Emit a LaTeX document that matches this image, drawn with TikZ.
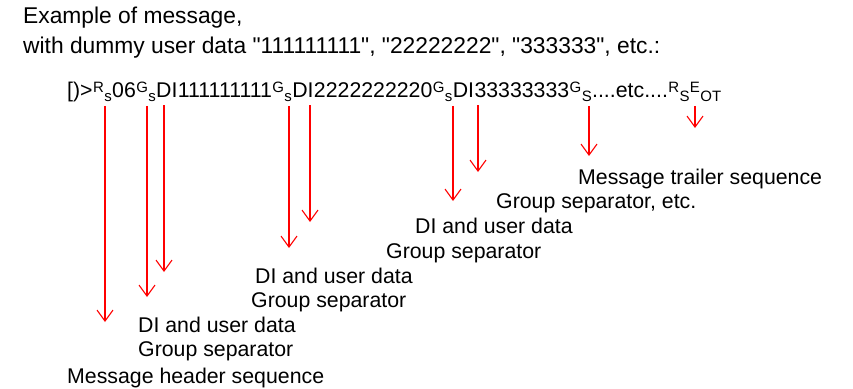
\documentclass[tikz,border=0pt]{standalone}
\usepackage{fontspec}
\setmainfont{Liberation Sans}
\usetikzlibrary{arrows.meta}
\newcommand{\bigtxt}{\fontsize{21.3}{25}\selectfont}
\newcommand{\ttltxt}{\fontsize{22.8}{26}\selectfont}
\newcommand{\ctltxt}{\fontsize{15}{17}\selectfont}
\newcommand{\qq}[1]{\textquotedbl#1\textquotedbl}
\begin{document}
\begin{tikzpicture}[x=1pt,y=-1pt,
  txt/.style={anchor=base west,inner sep=0pt,font=\bigtxt},
  ttl/.style={anchor=base west,inner sep=0pt,font=\ttltxt},
  dinode/.style={anchor=base west,inner xsep=0pt,inner ysep=8pt,font=\bigtxt},
  hi/.style={anchor=base west,inner sep=0pt,font=\ctltxt,yshift=5pt},
  lo/.style={anchor=base west,inner xsep=0pt,inner ysep=4.5pt,font=\ctltxt,yshift=-4pt},
  sig/.style={draw=red,line width=1.1pt,-{Straight Barb[length=11pt,width=16pt]}}]
\useasboundingbox (0,0) rectangle (853,388);

\node[ttl] (ttla) at (23,23) {Example of message,};
\node[ttl] (ttlb) at (23,53) {with dummy user data \qq{111111111}, \qq{22222222}, \qq{333333}, etc.:};

% message line
\coordinate (base) at (0,97);
\node[txt] (hdr) at (67,97) {[)>};
\node[hi] (rs1r) at (hdr.east |- base) {R};
\node[lo] (rs1s) at (rs1r.east |- base) {s};
\node[txt] (n06) at (rs1s.east |- base) {06};
\node[hi] (gs1g) at (n06.east |- base) {G};
\node[lo] (gs1s) at (gs1g.east |- base) {s};
\node[dinode] (di1) at (gs1s.east |- base) {DI};
\node[txt] (d1) at (di1.east |- base) {111111111};
\node[hi] (gs2g) at (d1.east |- base) {G};
\node[lo] (gs2s) at (gs2g.east |- base) {s};
\node[dinode] (di2) at (gs2s.east |- base) {DI};
\node[txt] (d2) at (di2.east |- base) {2222222220};
\node[hi] (gs3g) at (d2.east |- base) {G};
\node[lo] (gs3s) at (gs3g.east |- base) {s};
\node[dinode] (di3) at (gs3s.east |- base) {DI};
\node[txt] (d3) at (di3.east |- base) {33333333};
\node[hi] (gs4g) at (d3.east |- base) {G};
\node[lo] (gs4s) at (gs4g.east |- base) {S};
\node[txt] (etc) at (gs4s.east |- base) {....etc....};
\node[hi] (rs2r) at (etc.east |- base) {R};
\node[lo] (rs2s) at (rs2r.east |- base) {S};
\node[hi] (eote) at (rs2s.east |- base) {E};
\node[lo] (eoto) at (eote.east |- base) {OT};

% arrow tips
\coordinate (t1) at (105,322);
\coordinate (t2) at (147,297);
\coordinate (t3) at (164,272);
\coordinate (t4) at (289,248);
\coordinate (t5) at (310,222);
\coordinate (t6) at (453,201);
\coordinate (t7) at (478,172);
\coordinate (t8) at (589,156);
\coordinate (t9) at (695,128);

\draw[sig] (t1 |- rs1s.south) -- (t1);
\draw[sig] (t2 |- gs1s.south) -- (t2);
\draw[sig] (t3 |- di1.south) -- (t3);
\draw[sig] (t4 |- gs2s.south) -- (t4);
\draw[sig] (t5 |- di2.south) -- (t5);
\draw[sig] (t6 |- gs3s.south) -- (t6);
\draw[sig] (t7 |- di3.south) -- (t7);
\draw[sig] (t8 |- gs4s.south) -- (t8);
\draw[sig] (t9 |- rs2s.south) -- (t9);

% labels
\node[txt] (lbl1a) at (138,332) {DI and user data};
\node[txt] (lbl1b) at (138,356) {Group separator};
\node[txt] (lbl1c) at (67,383) {Message header sequence};
\node[txt] (lbl2a) at (255,283) {DI and user data};
\node[txt] (lbl2b) at (251,307) {Group separator};
\node[txt] (lbl3a) at (415,233) {DI and user data};
\node[txt] (lbl3b) at (386,258) {Group separator};
\node[txt] (lbl4) at (496,208) {Group separator, etc.};
\node[txt] (lbl5) at (578,184) {Message trailer sequence};

\end{tikzpicture}
\end{document}
